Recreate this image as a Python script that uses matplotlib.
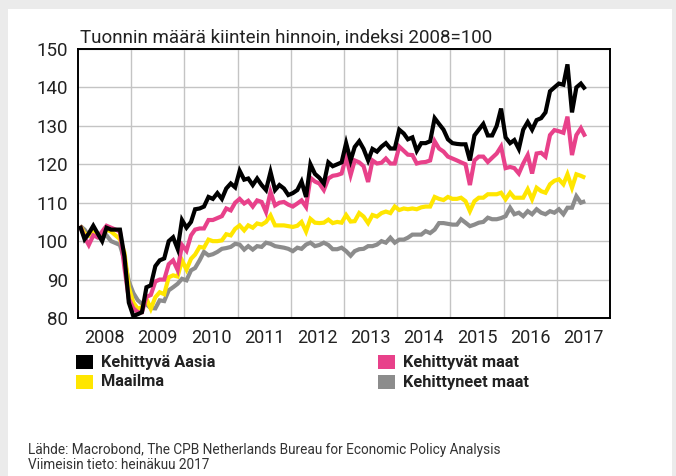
import matplotlib
matplotlib.use("Agg")
import matplotlib.pyplot as plt
from matplotlib.patches import Rectangle
import pandas as pd

plt.rcParams['font.family'] = ['Roboto', 'DejaVu Sans']

title = "Tuonnin määrä kiintein hinnoin, indeksi 2008=100"
source_lines = ["Lähde: Macrobond, The CPB Netherlands Bureau for Economic Policy Analysis",
                "Viimeisin tieto: heinäkuu 2017"]
years = list(range(2008, 2018))
yticks = [80, 90, 100, 110, 120, 130, 140, 150]

series_names = ["Kehittyvä Aasia", "Maailma", "Kehittyvät maat", "Kehittyneet maat"]
colors = ["#000000", "#ffe600", "#e8418a", "#8c8c8c"]

asia = [104, 100.5, 102, 104, 102, 100, 103.5, 103, 103, 103, 96, 84,
        80.5, 81, 81.5, 88, 88.5, 93.5, 95, 95.5, 100, 101, 98, 105.5,
        103.5, 105, 108.3, 108.5, 109, 111.5, 111, 112.5, 111, 113.7, 115, 114,
        118.3, 116, 116.3, 114.6, 116.3, 114.6, 113.3, 118, 113.3, 114.6, 113.7, 112,
        112.5, 113.3, 115.5, 111.5, 120, 117.5, 116.5, 115, 120.5, 119.5, 120, 120.5,
        125.5, 121, 124.5, 126, 124, 121, 124, 123.3, 124.6, 125.5, 124.1, 124.1,
        129, 128, 126.5, 127, 123.5, 125.5, 125.5, 126, 132, 130.5, 129, 126.5,
        125.5, 125.3, 125.2, 125.2, 121, 127.5, 129, 130.5, 127.5, 127.5, 130, 134.5,
        127, 125.5, 126.3, 124, 129, 131, 129, 131.5, 132, 133.5, 139, 140,
        141, 140.7, 146, 133.5, 140, 141, 139.5]

emerging = [104, 101, 99, 101.5, 101, 102.5, 104, 103.5, 103, 102.5, 93, 85,
            82.5, 81.5, 81.5, 85.5, 86, 89.5, 90, 90, 94, 95, 92.5, 99,
            97.5, 101.5, 103, 103.3, 103.3, 105.5, 105.5, 106, 106.5, 108.5, 108, 110,
            111, 109.8, 110.5, 109, 110.6, 110.2, 107.6, 112.8, 109.3, 110, 110.2, 109.5,
            109, 109.8, 110.6, 108.9, 116.5, 115.5, 115, 113.3, 116.3, 117, 117.2, 117.6,
            122, 117.2, 121, 120.5, 119.5, 115.4, 121, 120.2, 120.4, 121.5, 120.2, 120.2,
            124.6, 123.5, 122.5, 122.4, 120.2, 120.5, 120.6, 121, 126, 124.1, 123.3, 122,
            121.5, 121, 120.5, 120, 114.6, 121, 122, 122, 120.6, 121.7, 122.8, 124.6,
            119, 119.3, 119, 117.6, 120.2, 122.4, 117.6, 122.8, 123, 122, 127.6, 128.9,
            128.6, 128.2, 132.4, 122.4, 127.6, 129.4, 127.2]

world = [104, 102, 101.5, 103, 101.5, 101, 103, 102.5, 101.5, 100.5, 97, 88,
         84, 82.4, 82.8, 85, 82.4, 85.4, 86.7, 86.2, 90.6, 91.1, 90.8, 95,
         92.6, 95.4, 96.5, 98.5, 98.3, 100.4, 100, 100, 100.2, 101.8, 101.5, 103.2,
         104.1, 102.8, 104.1, 103.5, 104.6, 104.3, 105, 106.7, 104.1, 104.1, 104.1, 103.9,
         103.7, 104, 105, 102.5, 105.8, 104.8, 104.7, 104.8, 105.6, 104.7, 105, 104.8,
         106.8, 105.1, 105.2, 107.3, 106.4, 104.7, 106.8, 106.4, 107.3, 107.7, 107.3, 109,
         108.1, 108.5, 108.3, 108.5, 108.3, 108.8, 109, 109, 111.5, 111, 110.7, 111.5,
         111, 111, 111.3, 110.4, 107.8, 110.4, 111.3, 111.3, 112.2, 112.2, 112.2, 112.6,
         110.9, 112.6, 111.3, 111.3, 111.3, 113.5, 110.9, 113.9, 113, 112.6, 114.8, 115.7,
         116.1, 114.8, 117.4, 113.9, 117.4, 117, 116.5]

advanced = [104, 103, 101.5, 102.5, 101, 101, 101.5, 100, 99.5, 99, 95, 89.5,
            86.5, 84.6, 83.7, 83.5, 82.6, 82.5, 84.6, 84.4, 87.2, 88, 88.9, 90.2,
            89.8, 92.4, 93, 95, 97.2, 96.3, 96.6, 97.2, 98, 98.2, 98.5, 99.3,
            99.1, 97.8, 98.7, 97.8, 98.7, 98.5, 99.6, 99.3, 98.7, 98.5, 98.3, 98,
            97.4, 98.3, 98, 99.1, 99.6, 98.7, 99, 99.6, 99, 97.9, 97.9, 98.3,
            97.4, 96.2, 97.4, 97.9, 98, 98.7, 98.7, 99.1, 100, 99.6, 100.9, 99.6,
            100.4, 100.4, 100.9, 101.7, 101.7, 101.7, 102.6, 102.1, 103, 104.7, 104.7, 104.5,
            104.3, 104.3, 105.7, 104.8, 103.9, 104.3, 104.8, 105, 106.1, 105.7, 105.7, 106,
            106.5, 108.7, 107, 107.4, 106.5, 107.8, 107, 108.3, 107.4, 107, 107.8, 107.4,
            108.3, 107, 108.7, 108.7, 111.7, 110, 110.4]

dates = pd.date_range("2008-01-01", periods=len(asia), freq="MS") + pd.Timedelta(days=14)

W, H = 676, 476
fig = plt.figure(figsize=(W / 100, H / 100), dpi=100, facecolor="#ebebeb")
fig.add_artist(Rectangle((8 / W, 0), 664 / W, 1 - 9 / H, transform=fig.transFigure,
                         facecolor="white", edgecolor="none", zorder=0))

ax = fig.add_axes([78 / W, 1 - 318 / H, 532 / W, 269 / H])
ax.set_facecolor("white")

# draw order: grey, yellow, pink, black on top
for vals, col in [(advanced, colors[3]), (world, colors[1]), (emerging, colors[2]), (asia, colors[0])]:
    ax.plot(dates, vals, color=col, lw=3.0, solid_joinstyle="miter", solid_capstyle="butt")

ax.set_ylim(80, 150)
ax.set_yticks(yticks)
ax.set_xlim(pd.Timestamp("2008-01-01"), pd.Timestamp("2018-01-01"))
ax.set_xticks([pd.Timestamp(f"{y}-01-01") for y in years[1:]])
ax.set_xticklabels([])
ax.set_xticks([pd.Timestamp(f"{y}-07-02") for y in years], minor=True)
ax.set_xticklabels([str(y) for y in years], minor=True)
ax.tick_params(axis="x", which="both", length=0, pad=8, labelsize=13, labelcolor="#222222")
ax.tick_params(axis="y", length=0, pad=7, labelsize=13.5, labelcolor="#222222")
ax.grid(True, which="major", color="#c4c4c4", lw=1.0)
ax.set_axisbelow(True)
for s in ax.spines.values():
    s.set_color("#000000")
    s.set_linewidth(1.4)

fig.text(80 / W, 1 - 37 / H, title, fontsize=13.5, color="#222222", va="center", ha="left")

# legend
leg_pos = [(76, 362), (76, 382), (378, 362), (378, 382)]
for (lx, ly), name, col in zip(leg_pos, series_names, colors):
    fig.add_artist(Rectangle((lx / W, 1 - (ly + 7) / H), 17 / W, 14 / H,
                             transform=fig.transFigure, facecolor=col, edgecolor="none"))
    fig.text((lx + 25) / W, 1 - ly / H, name, fontsize=11.8, fontweight="bold",
             color="#222222", va="center", ha="left")

fig.text(28 / W, 1 - 450 / H, source_lines[0], fontsize=9.8, color="#333333", va="center")
fig.text(28 / W, 1 - 465 / H, source_lines[1], fontsize=9.8, color="#333333", va="center")

fig.savefig("out.png", dpi=100, facecolor=fig.get_facecolor())
